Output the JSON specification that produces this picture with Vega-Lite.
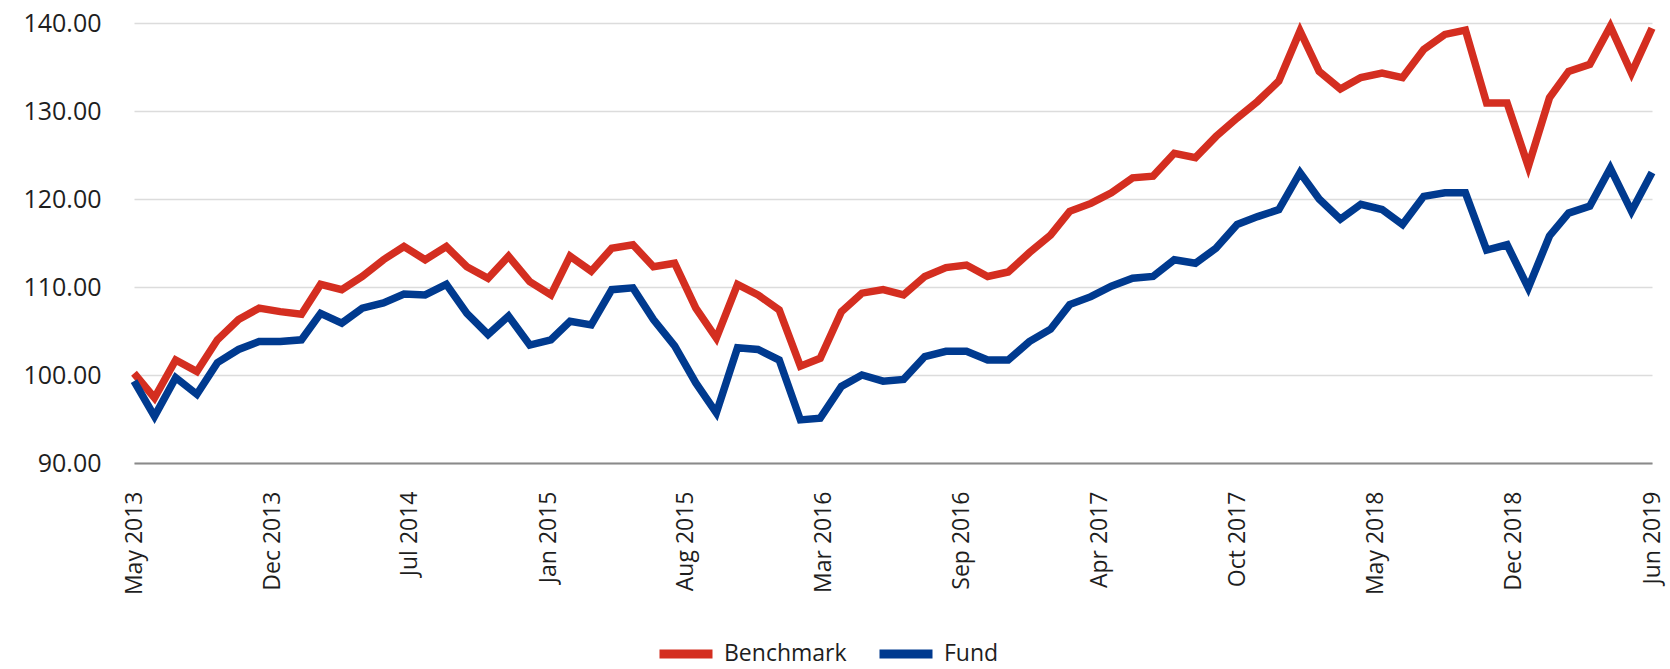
{
  "$schema": "https://vega.github.io/schema/vega-lite/v6.json",
  "autosize": {"type": "none"},
  "width": 1518,
  "height": 440,
  "padding": {"left": 134, "top": 23, "right": 18, "bottom": 206},
  "background": "white",
  "config": {
    "view": {"stroke": null},
    "font": "Open Sans"
  },
  "data": {
    "values": [
      {"date": "2013-05-31", "Benchmark": 100.2, "Fund": 99.3},
      {"date": "2013-06-30", "Benchmark": 97.4, "Fund": 95.3},
      {"date": "2013-07-31", "Benchmark": 101.7, "Fund": 99.7},
      {"date": "2013-08-31", "Benchmark": 100.4, "Fund": 97.8},
      {"date": "2013-09-30", "Benchmark": 104.0, "Fund": 101.4},
      {"date": "2013-10-31", "Benchmark": 106.3, "Fund": 102.9},
      {"date": "2013-11-30", "Benchmark": 107.6, "Fund": 103.8},
      {"date": "2013-12-31", "Benchmark": 107.2, "Fund": 103.8},
      {"date": "2014-01-31", "Benchmark": 106.9, "Fund": 104.0},
      {"date": "2014-02-28", "Benchmark": 110.3, "Fund": 107.0},
      {"date": "2014-03-31", "Benchmark": 109.7, "Fund": 105.9},
      {"date": "2014-04-30", "Benchmark": 111.2, "Fund": 107.6},
      {"date": "2014-05-31", "Benchmark": 113.1, "Fund": 108.2},
      {"date": "2014-06-30", "Benchmark": 114.6, "Fund": 109.2},
      {"date": "2014-07-31", "Benchmark": 113.1, "Fund": 109.1},
      {"date": "2014-08-31", "Benchmark": 114.6, "Fund": 110.3},
      {"date": "2014-09-30", "Benchmark": 112.3, "Fund": 107.0},
      {"date": "2014-10-31", "Benchmark": 111.0, "Fund": 104.6},
      {"date": "2014-11-30", "Benchmark": 113.5, "Fund": 106.7},
      {"date": "2014-12-31", "Benchmark": 110.6, "Fund": 103.4},
      {"date": "2015-01-31", "Benchmark": 109.1, "Fund": 104.0},
      {"date": "2015-02-28", "Benchmark": 113.5, "Fund": 106.1},
      {"date": "2015-03-31", "Benchmark": 111.8, "Fund": 105.7},
      {"date": "2015-04-30", "Benchmark": 114.4, "Fund": 109.7},
      {"date": "2015-05-31", "Benchmark": 114.8, "Fund": 109.9},
      {"date": "2015-06-30", "Benchmark": 112.3, "Fund": 106.3},
      {"date": "2015-07-31", "Benchmark": 112.7, "Fund": 103.3},
      {"date": "2015-08-31", "Benchmark": 107.6, "Fund": 99.1},
      {"date": "2015-09-30", "Benchmark": 104.2, "Fund": 95.7},
      {"date": "2015-10-31", "Benchmark": 110.3, "Fund": 103.1},
      {"date": "2015-11-30", "Benchmark": 109.1, "Fund": 102.9},
      {"date": "2015-12-31", "Benchmark": 107.4, "Fund": 101.7},
      {"date": "2016-01-31", "Benchmark": 101.0, "Fund": 94.9},
      {"date": "2016-02-29", "Benchmark": 101.9, "Fund": 95.1},
      {"date": "2016-03-31", "Benchmark": 107.2, "Fund": 98.7},
      {"date": "2016-04-30", "Benchmark": 109.3, "Fund": 100.0},
      {"date": "2016-05-31", "Benchmark": 109.7, "Fund": 99.3},
      {"date": "2016-06-30", "Benchmark": 109.1, "Fund": 99.5},
      {"date": "2016-07-31", "Benchmark": 111.2, "Fund": 102.1},
      {"date": "2016-08-31", "Benchmark": 112.2, "Fund": 102.7},
      {"date": "2016-09-30", "Benchmark": 112.5, "Fund": 102.7},
      {"date": "2016-10-31", "Benchmark": 111.2, "Fund": 101.7},
      {"date": "2016-11-30", "Benchmark": 111.7, "Fund": 101.7},
      {"date": "2016-12-31", "Benchmark": 113.9, "Fund": 103.8},
      {"date": "2017-01-31", "Benchmark": 115.9, "Fund": 105.2},
      {"date": "2017-02-28", "Benchmark": 118.6, "Fund": 108.0},
      {"date": "2017-03-31", "Benchmark": 119.5, "Fund": 108.9},
      {"date": "2017-04-30", "Benchmark": 120.7, "Fund": 110.1},
      {"date": "2017-05-31", "Benchmark": 122.4, "Fund": 111.0},
      {"date": "2017-06-30", "Benchmark": 122.6, "Fund": 111.2},
      {"date": "2017-07-31", "Benchmark": 125.2, "Fund": 113.1},
      {"date": "2017-08-31", "Benchmark": 124.7, "Fund": 112.7},
      {"date": "2017-09-30", "Benchmark": 127.1, "Fund": 114.4},
      {"date": "2017-10-31", "Benchmark": 129.2, "Fund": 117.1},
      {"date": "2017-11-30", "Benchmark": 131.1, "Fund": 118.0},
      {"date": "2017-12-31", "Benchmark": 133.4, "Fund": 118.8},
      {"date": "2018-01-31", "Benchmark": 139.1, "Fund": 123.0},
      {"date": "2018-02-28", "Benchmark": 134.5, "Fund": 120.0},
      {"date": "2018-03-31", "Benchmark": 132.5, "Fund": 117.7},
      {"date": "2018-04-30", "Benchmark": 133.8, "Fund": 119.4},
      {"date": "2018-05-31", "Benchmark": 134.3, "Fund": 118.8},
      {"date": "2018-06-30", "Benchmark": 133.8, "Fund": 117.1},
      {"date": "2018-07-31", "Benchmark": 137.0, "Fund": 120.3},
      {"date": "2018-08-31", "Benchmark": 138.7, "Fund": 120.7},
      {"date": "2018-09-30", "Benchmark": 139.2, "Fund": 120.7},
      {"date": "2018-10-31", "Benchmark": 130.9, "Fund": 114.2},
      {"date": "2018-11-30", "Benchmark": 130.9, "Fund": 114.8},
      {"date": "2018-12-31", "Benchmark": 123.7, "Fund": 109.9},
      {"date": "2019-01-31", "Benchmark": 131.5, "Fund": 115.8},
      {"date": "2019-02-28", "Benchmark": 134.5, "Fund": 118.4},
      {"date": "2019-03-31", "Benchmark": 135.3, "Fund": 119.2},
      {"date": "2019-04-30", "Benchmark": 139.6, "Fund": 123.5},
      {"date": "2019-05-31", "Benchmark": 134.3, "Fund": 118.6},
      {"date": "2019-06-30", "Benchmark": 139.4, "Fund": 123.0}
    ]
  },
  "transform": [
    {"fold": ["Benchmark", "Fund"], "as": ["series", "value"]}
  ],
  "mark": {"type": "line", "strokeWidth": 7.5, "strokeJoin": "miter", "strokeCap": "butt"},
  "encoding": {
    "x": {
      "field": "date",
      "type": "temporal",
      "scale": {
        "type": "utc",
        "nice": false,
        "domain": [
          {"year": 2013, "month": 5, "date": 31, "utc": true},
          {"year": 2019, "month": 6, "date": 30, "utc": true}
        ]
      },
      "axis": {
        "title": null,
        "values": [
          {"year": 2013, "month": 5, "date": 31, "utc": true},
          {"year": 2013, "month": 12, "date": 19, "utc": true},
          {"year": 2014, "month": 7, "date": 8, "utc": true},
          {"year": 2015, "month": 1, "date": 27, "utc": true},
          {"year": 2015, "month": 8, "date": 16, "utc": true},
          {"year": 2016, "month": 3, "date": 5, "utc": true},
          {"year": 2016, "month": 9, "date": 23, "utc": true},
          {"year": 2017, "month": 4, "date": 13, "utc": true},
          {"year": 2017, "month": 10, "date": 31, "utc": true},
          {"year": 2018, "month": 5, "date": 22, "utc": true},
          {"year": 2018, "month": 12, "date": 10, "utc": true},
          {"year": 2019, "month": 6, "date": 30, "utc": true}
        ],
        "format": "%b %Y",
        "labelAngle": 270,
        "labelFontSize": 23,
        "labelColor": "#1e1e1e",
        "labelPadding": 28,
        "labelOverlap": false,
        "labelBound": false,
        "labelFlush": false,
        "ticks": false,
        "grid": false,
        "domain": true,
        "domainColor": "#8a8a8a",
        "domainWidth": 2
      }
    },
    "y": {
      "field": "value",
      "type": "quantitative",
      "scale": {"domain": [90, 140], "nice": false, "zero": false},
      "axis": {
        "title": null,
        "values": [90, 100, 110, 120, 130, 140],
        "format": ".2f",
        "labelFontSize": 25,
        "labelColor": "#1e1e1e",
        "labelPadding": 33,
        "ticks": false,
        "domain": false,
        "grid": true,
        "gridColor": "#dcdcdc",
        "gridWidth": 1.5
      }
    },
    "color": {
      "field": "series",
      "type": "nominal",
      "scale": {"domain": ["Benchmark", "Fund"], "range": ["#D42E20", "#003A8F"]},
      "legend": {
        "title": null,
        "orient": "none",
        "direction": "horizontal",
        "legendX": 521,
        "legendY": 600,
        "symbolType": "stroke",
        "symbolSize": 2809,
        "symbolStrokeWidth": 9,
        "labelFontSize": 23,
        "labelColor": "#1e1e1e",
        "labelOffset": 7,
        "columnPadding": 14,
        "padding": 0
      }
    }
  }
}
